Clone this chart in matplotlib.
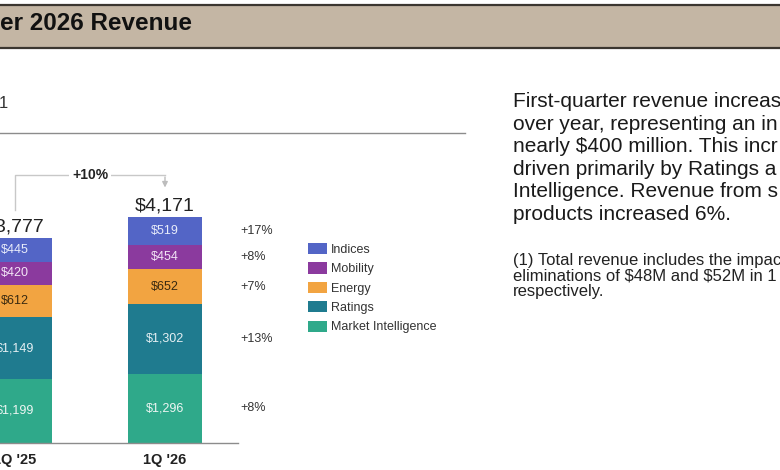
import matplotlib
matplotlib.use('Agg')
import matplotlib.pyplot as plt
from matplotlib.patches import Rectangle

plt.rcParams['font.family'] = ['Liberation Sans', 'DejaVu Sans']

# data ($ millions)
quarters = ["1Q '25", "1Q '26"]
segments = ['Market Intelligence', 'Ratings', 'Energy', 'Mobility', 'Indices']
market_intel = [1199, 1296]
ratings = [1149, 1302]
energy = [612, 652]
mobility = [420, 454]
indices = [445, 519]
totals = [3777, 4171]
growth = ['+8%', '+13%', '+7%', '+8%', '+17%']
total_growth = '+10%'

colors = ['#2fa98a', '#1f7b8f', '#f2a441', '#8b3a9e', '#5365c6']
label_colors = ['#eef6f3', '#e6f0f3', '#3a2a10', '#f3e6f6', '#e8ecfa']

# commentary, as far as it shows on the cropped slide
paragraph = [
    'First-quarter revenue increas',
    'over year, representing an in',
    'nearly \\$400 million. This incr',
    'driven primarily by Ratings a',
    'Intelligence. Revenue from s',
    'products increased 6%.',
]
footnote = [
    '(1) Total revenue includes the impac',
    'eliminations of \\$48M and \\$52M in 1',
    'respectively.',
]

fig = plt.figure(figsize=(7.8, 4.7), dpi=100)

# slide background in pixel coords
bg = fig.add_axes([0, 0, 1, 1])
bg.set_xlim(0, 780)
bg.set_ylim(470, 0)
bg.axis('off')
bg.add_patch(Rectangle((0, 4), 780, 44, facecolor='#c4b6a4', edgecolor='none'))
bg.plot([0, 780], [5, 5], color='#3b3630', lw=1.6)
bg.plot([0, 780], [47.5, 47.5], color='#3b3630', lw=1.6)
bg.text(0, 23, 'er 2026 Revenue', fontsize=17.5, fontweight='bold',
        va='center', ha='left', color='#111111')
bg.text(-1, 108, '1', fontsize=12, va='baseline', ha='left', color='#333333')
bg.plot([0, 465], [133, 133], color='#8c8c8c', lw=1)

for i, line in enumerate(paragraph):
    bg.text(513, 107 + i * 22.6, line, fontsize=15, va='baseline',
            ha='left', color='#1a1a1a')
for i, line in enumerate(footnote):
    bg.text(513, 265.5 + i * 15.2, line, fontsize=12, va='baseline',
            ha='left', color='#222222')

# chart
ax = fig.add_axes([0, 27 / 470, 238 / 780, 313 / 470])
ax.patch.set_alpha(0)
ax.set_xlim(-0.1, 1.4867)
ax.set_ylim(0, 5850)

series = [market_intel, ratings, energy, mobility, indices]
x = [0, 1]
width = 0.4933
bottoms = [0, 0]
handles = []
for vals, name, col, tcol in zip(series, segments, colors, label_colors):
    b = ax.bar(x, vals, width, bottom=bottoms, color=col, label=name)
    handles.append(b)
    for xi, v, b0 in zip(x, vals, bottoms):
        ax.text(xi, b0 + v / 2, f'${v:,}', ha='center', va='center',
                fontsize=9, color=tcol)
    bottoms = [b0 + v for b0, v in zip(bottoms, vals)]

tops = bottoms

# growth labels next to 1Q '26 bar
b0 = 0
for vals, g in zip(series, growth):
    ax.text(1.5, b0 + vals[1] / 2, g, ha='left', va='center', fontsize=9,
            color='#333333', clip_on=False)
    b0 += vals[1]

# total labels
for xi, t, top in zip(x, totals, tops):
    ax.annotate(f'${t:,}', (xi, top), xytext=(0, 5), textcoords='offset points',
                ha='center', va='baseline', fontsize=14, color='#222222',
                annotation_clip=False)

# +10% bracket
bracket_y = tops[1] + 790
ax.plot([0, 0, 1], [tops[0] + 530, bracket_y, bracket_y], color='#c8c8c8',
        lw=1, clip_on=False)
ax.annotate('', xy=(1, tops[1] + 500), xytext=(1, bracket_y + 10),
            arrowprops=dict(arrowstyle='-|>', color='#bdbdbd', lw=1,
                            mutation_scale=8), annotation_clip=False)
ax.text(0.5, bracket_y, total_growth, ha='center', va='center', fontsize=10,
        fontweight='bold', color='#222222',
        bbox=dict(facecolor='white', edgecolor='none', pad=2))

ax.set_xticks(x)
ax.set_xticklabels(quarters, fontsize=10.5, fontweight='bold', color='#222222')
ax.tick_params(axis='x', length=0, pad=7)
ax.set_yticks([])
for s in ['left', 'right', 'top']:
    ax.spines[s].set_visible(False)
ax.spines['bottom'].set_color('#8c8c8c')
ax.spines['bottom'].set_linewidth(1)

fig.legend(handles[::-1], segments[::-1], loc='upper left',
           bbox_to_anchor=(308 / 780, 1 - 243 / 470), frameon=False,
           fontsize=9, handlelength=1.5, handleheight=1.0, handletextpad=0.35,
           labelspacing=0.52, borderpad=0, borderaxespad=0, labelcolor='#333333')

fig.savefig('out.png', dpi=100)
